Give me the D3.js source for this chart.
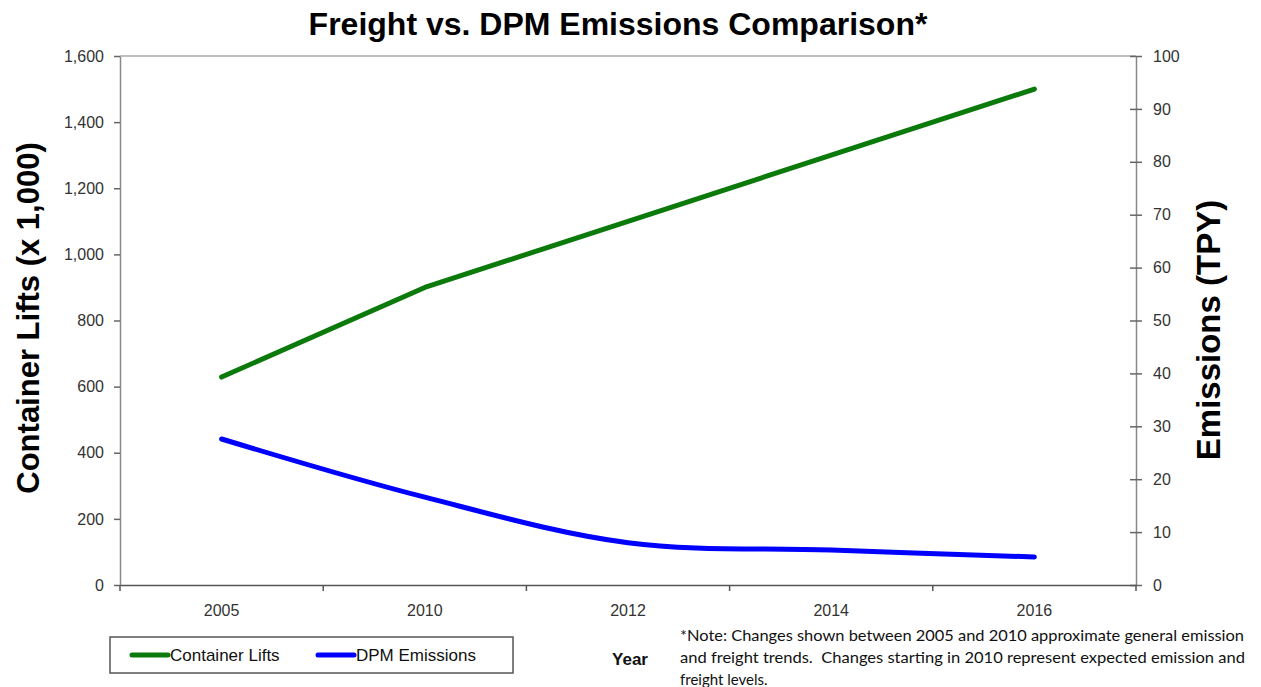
<!DOCTYPE html>
<html><head><meta charset="utf-8">
<script src="https://cdn.jsdelivr.net/npm/d3@7"></script>
<style>body{margin:0;background:#fff}svg{display:block}</style>
</head><body>
<svg id="c" width="1261" height="687"></svg>
<script>
const years = ["2005", "2010", "2012", "2014", "2016"];
const containerLifts = [629, 900, 1100, 1300, 1500];
const dpmEmissions = [27.6, 16.6, 8.0, 6.6, 5.3];
const leftTicks = [0, 200, 400, 600, 800, 1000, 1200, 1400, 1600];
const rightTicks = [0, 10, 20, 30, 40, 50, 60, 70, 80, 90, 100];

const svg = d3.select("#c");
const L = 120, R = 1136, T = 56, B = 585;
const x = d3.scaleBand().domain(years).range([L, R]).padding(0);
const yL = d3.scaleLinear().domain([0, 1600]).range([B, T]);
const yR = d3.scaleLinear().domain([0, 100]).range([B, T]);
const cx = d => x(d) + x.bandwidth() / 2;
const fmt = d3.format(",");
const FONT = "Liberation Sans, Arial, sans-serif";

// plot top border
svg.append("line").attr("x1", L).attr("x2", R).attr("y1", T).attr("y2", T)
  .attr("stroke", "#aaa").attr("stroke-width", 1.5);

// left axis
const gL = svg.append("g").attr("transform", `translate(${L},0)`)
  .call(d3.axisLeft(yL).tickValues(leftTicks).tickFormat(fmt).tickSize(6).tickSizeOuter(0));
gL.select(".domain").attr("stroke", "#888").attr("stroke-width", 1.5);
gL.selectAll(".tick line").attr("stroke", "#666").attr("stroke-width", 1.5);
gL.selectAll(".tick text").attr("font-family", FONT)
  .attr("font-size", 16).attr("fill", "#333").attr("x", -16);

// right axis
const gR = svg.append("g").attr("transform", `translate(${R},0)`)
  .call(d3.axisRight(yR).tickValues(rightTicks).tickSize(6).tickSizeOuter(0));
gR.select(".domain").attr("stroke", "#888").attr("stroke-width", 1.5);
gR.selectAll(".tick line").attr("stroke", "#666").attr("stroke-width", 1.5).attr("x1", -6);
gR.selectAll(".tick text").attr("font-family", FONT)
  .attr("font-size", 16).attr("fill", "#333").attr("x", 17);

// bottom axis
const gB = svg.append("g").attr("transform", `translate(0,${B})`)
  .call(d3.axisBottom(x).tickSize(0).tickSizeOuter(0).tickPadding(20));
gB.select(".domain").attr("stroke", "#555").attr("stroke-width", 1.5);
gB.selectAll(".tick text").attr("font-family", FONT)
  .attr("font-size", 16).attr("fill", "#333");
const bounds = years.map(d => x(d)).concat([R]);
gB.selectAll(".bt").data(bounds).enter().append("line")
  .attr("x1", d => d).attr("x2", d => d).attr("y1", 0).attr("y2", 6)
  .attr("stroke", "#555").attr("stroke-width", 1.5);

// lines
const lineL = d3.line().x((d, i) => cx(years[i])).y(d => yL(d));
const lineR = d3.line().x((d, i) => cx(years[i])).y(d => yR(d)).curve(d3.curveCatmullRom.alpha(0.5));
svg.append("path").datum(dpmEmissions).attr("d", lineR).attr("fill", "none")
  .attr("stroke", "#0000ff").attr("stroke-width", 5).attr("stroke-linecap", "round");
svg.append("path").datum(containerLifts).attr("d", lineL).attr("fill", "none")
  .attr("stroke", "#0b7a0b").attr("stroke-width", 5).attr("stroke-linecap", "round")
  .attr("stroke-linejoin", "round");

// title
svg.append("text").attr("x", 618).attr("y", 35).attr("text-anchor", "middle")
  .attr("font-family", FONT).attr("font-weight", "bold")
  .attr("font-size", 32).attr("fill", "#000").text("Freight vs. DPM Emissions Comparison*");

// axis titles
svg.append("text").attr("transform", "translate(39,318) rotate(-90)").attr("text-anchor", "middle")
  .attr("font-family", FONT).attr("font-weight", "bold")
  .attr("font-size", 31).attr("fill", "#000").text("Container Lifts (x 1,000)");
svg.append("text").attr("transform", "translate(1220,330) rotate(-90)").attr("text-anchor", "middle")
  .attr("font-family", FONT).attr("font-weight", "bold")
  .attr("font-size", 33).attr("fill", "#000").text("Emissions (TPY)");

// legend
svg.append("rect").attr("x", 110).attr("y", 637).attr("width", 403).attr("height", 36)
  .attr("fill", "#fff").attr("stroke", "#555").attr("stroke-width", 1.5);
const leg = [{n: "Container Lifts", c: "#0b7a0b", x: 132}, {n: "DPM Emissions", c: "#0000ff", x: 318}];
leg.forEach(l => {
  svg.append("line").attr("x1", l.x).attr("x2", l.x + 36).attr("y1", 655).attr("y2", 655)
    .attr("stroke", l.c).attr("stroke-width", 5).attr("stroke-linecap", "round");
  svg.append("text").attr("x", l.x + 38).attr("y", 661)
    .attr("font-family", FONT).attr("font-size", 17)
    .attr("fill", "#111").text(l.n);
});

// Year label
svg.append("text").attr("x", 630).attr("y", 665).attr("text-anchor", "middle")
  .attr("font-family", FONT).attr("font-weight", "bold")
  .attr("font-size", 17).attr("fill", "#111").text("Year");

// note
const note = ["*Note: Changes shown between 2005 and 2010 approximate general emission",
  "and freight trends.  Changes starting in 2010 represent expected emission and",
  "freight levels."];
const noteW = [564, 565, null];
note.forEach((t, i) => {
  const tx = svg.append("text").attr("x", 680).attr("y", 641 + i * 22)
    .attr("font-family", "Lato, sans-serif").attr("font-size", 15).attr("fill", "#111")
    .attr("xml:space", "preserve").style("white-space", "pre").text(t);
  if (noteW[i]) tx.attr("textLength", noteW[i]).attr("lengthAdjust", "spacingAndGlyphs");
});
</script>
</body></html>
